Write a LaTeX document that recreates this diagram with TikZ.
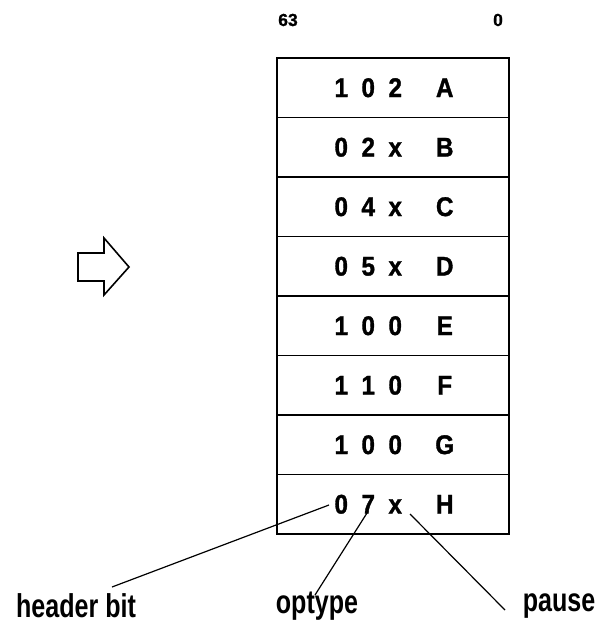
\documentclass[tikz,border=0pt]{standalone}
\usepackage{fontspec}
\setmainfont{Liberation Sans}
\newfontfamily\rowfont[FakeStretch=0.9,FakeBold=1.2]{Liberation Sans Bold}
\newfontfamily\lblfont[FakeStretch=0.76]{Liberation Sans Bold}
\newfontfamily\bitfont[FakeBold=1]{Liberation Sans Bold}
\newcommand{\cellch}[1]{\makebox[27pt]{#1}}
\newcommand{\rowtxt}[4]{\cellch{#1}\cellch{#2}\cellch{#3}\hspace{22.5pt}\cellch{#4}}
\begin{document}
\begin{tikzpicture}[x=1pt,y=-1pt,
  rowbox/.style={draw,line width=1.8pt,minimum width=232pt,minimum height=59.5pt,inner sep=0pt,
    font=\rowfont\fontsize{27}{27}\selectfont},
  bitlbl/.style={font=\bitfont\fontsize{17.5}{17.5}\selectfont,inner sep=0pt},
  lbl/.style={font=\lblfont\fontsize{33}{33}\selectfont,inner sep=0pt},
  conn/.style={line width=1.2pt}]
\useasboundingbox (0,0) rectangle (604,628);
\node[bitlbl] (b63) at (288,20) {63};
\node[bitlbl] (b0) at (498,20) {0};
\node[rowbox] (rA) at (393,87.75) {\rowtxt{1}{0}{2}{A}};
\node[rowbox] (rB) at (393,147.25) {\rowtxt{0}{2}{x}{B}};
\node[rowbox] (rC) at (393,206.75) {\rowtxt{0}{4}{x}{C}};
\node[rowbox] (rD) at (393,266.25) {\rowtxt{0}{5}{x}{D}};
\node[rowbox] (rE) at (393,325.75) {\rowtxt{1}{0}{0}{E}};
\node[rowbox] (rF) at (393,385.25) {\rowtxt{1}{1}{0}{F}};
\node[rowbox] (rG) at (393,444.75) {\rowtxt{1}{0}{0}{G}};
\node[rowbox] (rH) at (393,504.25) {\rowtxt{0}{7}{x}{H}};
\draw[line width=1.6pt,line join=miter] (78,253) -- (104,253) -- (104,238) -- (129,267) -- (104,295) -- (104,281) -- (78,281) -- cycle;
\node[lbl] (hdr) at (76,606) {header bit};
\node[lbl] (opt) at (317,606) {optype};
\node[lbl] (pau) at (559,606) {pause};
\coordinate (c0) at (329,505);
\coordinate (c7) at (367,513);
\coordinate (cx) at (410,514);
\coordinate (e0) at (112,587);
\coordinate (e7) at (315,595);
\coordinate (ex) at (505,610);
\draw[conn] (c0) -- (e0);
\draw[conn] (c7) -- (e7);
\draw[conn] (cx) -- (ex);
\end{tikzpicture}
\end{document}
